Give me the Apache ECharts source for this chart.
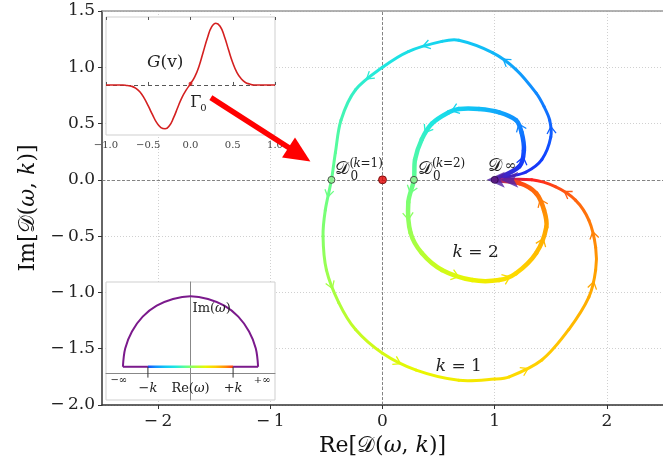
<!DOCTYPE html>
<html><head><meta charset="utf-8">
<script src="https://cdn.jsdelivr.net/npm/echarts@6/dist/echarts.min.js"></script>
<style>html,body{margin:0;padding:0;background:#fff}#c{width:663px;height:466px}</style>
</head><body><div id="c"></div><script>
// ---------- data ----------
const xTicks = [-2, -1, 0, 1, 2];
const yTicks = [-2, -1.5, -1, -0.5, 0, 0.5, 1, 1.5];
// k = 1 contour image (Re, Im) and position along the real-omega contour (0..1)
const k1Re = [1.0, 1.13, 1.28, 1.42, 1.50, 1.49, 1.44, 1.37, 1.19, 0.98, 0.68, 0.53, 0.23, 0.0, -0.24, -0.37, -0.42, -0.455, -0.51, -0.53, -0.50, -0.39, -0.24, 0.0, 0.30, 0.68, 1.0, 1.13, 1.42, 1.66, 1.84, 1.90, 1.90, 1.84, 1.72, 1.54, 1.33, 1.0];
const k1Im = [0.0, 0.03, 0.07, 0.18, 0.38, 0.53, 0.65, 0.77, 0.98, 1.13, 1.24, 1.23, 1.14, 1.0, 0.80, 0.53, 0.24, 0.0, -0.27, -0.50, -0.80, -1.09, -1.33, -1.54, -1.69, -1.78, -1.77, -1.75, -1.60, -1.33, -1.04, -0.80, -0.60, -0.36, -0.18, -0.06, 0.0, 0.0];
const k1T  = [0.0, 0.04, 0.07, 0.10, 0.13, 0.15, 0.17, 0.19, 0.23, 0.27, 0.31, 0.33, 0.37, 0.40, 0.43, 0.46, 0.49, 0.50, 0.53, 0.55, 0.58, 0.61, 0.64, 0.67, 0.70, 0.73, 0.76, 0.77, 0.80, 0.83, 0.86, 0.88, 0.90, 0.92, 0.94, 0.96, 0.98, 1.0];
const k1Arrows = [4, 8, 11, 13, 17, 20, 23, 27, 30, 32, 34];
// k = 2
const k2Re = [1.0, 1.22, 1.26, 1.24, 1.19, 1.04, 0.86, 0.68, 0.59, 0.44, 0.35, 0.29, 0.28, 0.23, 0.25, 0.35, 0.53, 0.80, 1.04, 1.19, 1.37, 1.46, 1.44, 1.37, 1.22, 1.0];
const k2Im = [0.0, 0.12, 0.26, 0.42, 0.53, 0.60, 0.63, 0.63, 0.60, 0.50, 0.36, 0.18, 0.0, -0.20, -0.47, -0.65, -0.80, -0.89, -0.89, -0.83, -0.65, -0.42, -0.27, -0.12, -0.03, 0.0];
const k2T  = [0.0, 0.08, 0.12, 0.17, 0.20, 0.24, 0.28, 0.32, 0.35, 0.40, 0.44, 0.47, 0.50, 0.54, 0.58, 0.62, 0.66, 0.71, 0.75, 0.78, 0.83, 0.87, 0.90, 0.93, 0.96, 1.0];
const k2Arrows = [1, 3, 7, 9, 12, 13, 16, 18, 20, 22];
const d0Points = [[-0.455, 0], [0.28, 0]];
const d0Names = ['1', '2'];
const originPoint = [0, 0];
const dInfPoint = [1, 0];
const arrowStart = [-1.53, 0.73];
const arrowEnd = [-0.74, 0.225];
// inset: G(v)
const gV = [-1.0,-0.95,-0.9,-0.85,-0.8,-0.75,-0.7,-0.65,-0.6,-0.55,-0.5,-0.45,-0.4,-0.35,-0.3,-0.25,-0.2,-0.15,-0.1,-0.05,0,0.05,0.1,0.15,0.2,0.25,0.3,0.35,0.4,0.45,0.5,0.55,0.6,0.65,0.7,0.75,0.8,0.85,0.9,0.95,1.0];
const gVal = [0,0,0,0,0,-0.01,-0.02,-0.05,-0.11,-0.21,-0.34,-0.48,-0.61,-0.69,-0.71,-0.66,-0.53,-0.36,-0.2,-0.08,0.02,0.13,0.3,0.53,0.76,0.94,1.0,0.95,0.79,0.57,0.36,0.2,0.1,0.04,0.015,0,0,0,0,0,0];
// inset: omega contour (upper half plane)
const arcX = [-1, -0.966, -0.866, -0.707, -0.5, -0.259, 0, 0.259, 0.5, 0.707, 0.866, 0.966, 1];
const arcY = [0.09, 0.36, 0.61, 0.83, 0.99, 1.09, 1.13, 1.09, 0.99, 0.83, 0.61, 0.36, 0.09];
const flatY = 0.09, kPos = 0.63;

// ---------- style ----------
const SERIF = '"DejaVu Serif", "Liberation Serif", serif';
const cmapPos = [0, 0.04, 0.10, 0.20, 0.30, 0.40, 0.50, 0.60, 0.70, 0.78, 0.88, 0.95, 0.98, 1.0];
const cmapCol = ['#5a1aa0','#2a20e0','#1040ff','#1090ff','#10c8f5','#20e8e0','#60ff90','#a8ff40','#e8f800','#ffd800','#ffa000','#ff5a10','#ff2020','#902080'];
function hex(c){return [parseInt(c.slice(1,3),16),parseInt(c.slice(3,5),16),parseInt(c.slice(5,7),16)];}
function cmap(t){
  for (let i=0;i<cmapPos.length-1;i++){
    if (t<=cmapPos[i+1]){
      const f=(t-cmapPos[i])/(cmapPos[i+1]-cmapPos[i]);
      const a=hex(cmapCol[i]), b=hex(cmapCol[i+1]);
      return 'rgb('+a.map((v,j)=>Math.round(v+(b[j]-v)*f)).join(',')+')';
    }
  }
  return cmapCol[cmapCol.length-1];
}
const fmt1 = v => (v<0?'\u2212\u2009':'') + Math.abs(v).toFixed(1);
const fmt0 = v => (v<0?'\u2212\u2009':'') + Math.abs(v);

function curveSeries(re, im, tt, arrows, width){
  const n = re.length;
  return {
    type:'custom', xAxisIndex:0, yAxisIndex:0, z:5, clip:false, silent:true,
    data: re.map((r,i)=>[r, im[i], tt[i]]),
    renderItem: function(params, api){
      const i = params.dataIndex;
      if (i >= n-1) return null;
      const P = j => api.coord([re[j], im[j]]);
      const dist = (a,b) => Math.hypot(b[0]-a[0], b[1]-a[1]);
      const tan = j => {
        if (j <= 0) { const a=P(0), b=P(1), d=dist(a,b); return [(b[0]-a[0])/d,(b[1]-a[1])/d]; }
        if (j >= n-1) { const a=P(n-2), b=P(n-1), d=dist(a,b); return [(b[0]-a[0])/d,(b[1]-a[1])/d]; }
        const a=P(j-1), b=P(j), c=P(j+1), s=dist(a,b)+dist(b,c);
        return [(c[0]-a[0])/s,(c[1]-a[1])/s];
      };
      const p1=P(i), p2=P(i+1), L=dist(p1,p2), m1=tan(i), m2=tan(i+1);
      const c1=[p1[0]+m1[0]*L/3, p1[1]+m1[1]*L/3];
      const c2=[p2[0]-m2[0]*L/3, p2[1]-m2[1]*L/3];
      const grad = new echarts.graphic.LinearGradient(p1[0],p1[1],p2[0],p2[1],
        [{offset:0,color:cmap(tt[i])},{offset:1,color:cmap(tt[i+1])}], true);
      const children=[{type:'bezierCurve',
        shape:{x1:p1[0],y1:p1[1],x2:p2[0],y2:p2[1],cpx1:c1[0],cpy1:c1[1],cpx2:c2[0],cpy2:c2[1]},
        style:{stroke:grad,lineWidth:width,fill:null,lineCap:'round'}}];
      if (arrows.indexOf(i) >= 0){
        const m=[(p1[0]+3*c1[0]+3*c2[0]+p2[0])/8,(p1[1]+3*c1[1]+3*c2[1]+p2[1])/8];
        let d=[p2[0]-p1[0]+c2[0]-c1[0], p2[1]-p1[1]+c2[1]-c1[1]];
        const Ld=Math.hypot(d[0],d[1]); d=[d[0]/Ld,d[1]/Ld];
        const nn=[-d[1],d[0]], s=5, w=width/2+3;
        children.push({type:'polyline',
          shape:{points:[[m[0]-d[0]*s+nn[0]*w,m[1]-d[1]*s+nn[1]*w],[m[0]+d[0]*2,m[1]+d[1]*2],[m[0]-d[0]*s-nn[0]*w,m[1]-d[1]*s-nn[1]*w]]},
          style:{stroke:cmap((tt[i]+tt[i+1])/2),lineWidth:1.3,fill:null}});
      }
      return {type:'group',children};
    }
  };
}

const chart = echarts.init(document.getElementById('c'), null, {renderer:'canvas'});
const mainLabel = {fontFamily:SERIF, fontSize:17, color:'#222'};
const nameRich = {a:{fontFamily:SERIF,fontSize:22,color:'#111'},i:{fontFamily:SERIF,fontSize:22,fontStyle:'italic',color:'#111'}};
const option = {
  backgroundColor:'#fff',
  animation:false,
  grid:[
    {left:102, top:11, width:561, height:394, containLabel:false},
    {left:106, top:17, width:169, height:118, show:true, backgroundColor:'#fff', borderColor:'#cfcfcf', borderWidth:1, z:3},
    {left:106, top:282, width:169, height:118, show:true, backgroundColor:'#fff', borderColor:'#cfcfcf', borderWidth:1, z:3}
  ],
  xAxis:[
    {gridIndex:0, type:'value', min:-2.5, max:2.5, interval:0.5, position:'bottom',
     axisLine:{show:true,onZero:false,lineStyle:{color:'#333',width:1.5}},
     axisTick:{show:true,length:4,customValues:xTicks,lineStyle:{color:'#333'}},
     axisLabel:Object.assign({customValues:xTicks,margin:8,formatter:fmt0},mainLabel),
     splitLine:{show:true,lineStyle:{color:'#d0d0d0',type:[1,2],width:1}},
     name:'{a|Re[\uD835\uDC9F(}{i|\u03C9}{a|, }{i|k}{a|)]}', nameLocation:'middle', nameGap:30,
     nameTextStyle:{rich:nameRich}},
    {gridIndex:0, type:'value', min:-2.5, max:2.5, position:'top',
     axisLine:{show:true,onZero:false,lineStyle:{color:'#999',width:1.5}},
     axisTick:{show:false},axisLabel:{show:false},splitLine:{show:false}},
    {gridIndex:1, type:'value', min:-1, max:1, interval:0.5, z:4,
     axisLine:{show:false}, axisTick:{show:true,inside:true,length:3,lineStyle:{color:'#555'}},
     axisLabel:{fontFamily:SERIF,fontSize:10,color:'#444',margin:5,formatter:v=>(v<0?'\u2212':'')+Math.abs(v).toFixed(1)},
     splitLine:{show:false}},
    {gridIndex:1, type:'value', min:-1, max:1, interval:0.5, position:'top', z:4,
     axisLine:{show:false}, axisTick:{show:true,inside:true,length:3,lineStyle:{color:'#555'}},
     axisLabel:{show:false}, splitLine:{show:false}},
    {gridIndex:2, type:'value', min:-1.25, max:1.25, z:4,
     axisLine:{show:true,onZero:true,lineStyle:{color:'#888',width:1}},
     axisTick:{show:false}, axisLabel:{show:false}, splitLine:{show:false}}
  ],
  yAxis:[
    {gridIndex:0, type:'value', min:-2, max:1.5, interval:0.5,
     axisLine:{show:true,onZero:false,lineStyle:{color:'#333',width:1.5}},
     axisTick:{show:true,length:4,lineStyle:{color:'#333'}},
     axisLabel:Object.assign({margin:7,formatter:fmt1},mainLabel),
     splitLine:{show:true,lineStyle:{color:'#d0d0d0',type:[1,2],width:1}},
     name:'{a|Im[\uD835\uDC9F(}{i|\u03C9}{a|, }{i|k}{a|)]}', nameLocation:'middle', nameGap:58, nameRotate:90,
     nameTextStyle:{rich:nameRich}},
    {gridIndex:1, type:'value', min:-0.81, max:1.10, show:false},
    {gridIndex:2, type:'value', min:-0.4, max:1.34, z:4,
     axisLine:{show:true,onZero:true,lineStyle:{color:'#888',width:1}},
     axisTick:{show:false}, axisLabel:{show:false}, splitLine:{show:false}}
  ],
  series:[
    {type:'line', xAxisIndex:0, yAxisIndex:0, data:[], z:1, silent:true,
     markLine:{silent:true,symbol:['none','none'],label:{show:false},
       lineStyle:{color:'#777',type:[3,2],width:0.9},
       data:[{xAxis:originPoint[0]},{yAxis:originPoint[1]}]}},
    curveSeries(k1Re,k1Im,k1T,k1Arrows,3),
    curveSeries(k2Re,k2Im,k2T,k2Arrows,4.5),
    {type:'scatter', xAxisIndex:0, yAxisIndex:0, z:7, silent:true,
     data:[[0.93,0.0],[1.05,0.0]], symbol:'arrow', symbolRotate:90, symbolSize:[12,18],
     itemStyle:{color:'#5020a8',opacity:0.8}},
    {type:'scatter', xAxisIndex:0, yAxisIndex:0, z:8, silent:true, data:d0Points, symbolSize:7,
     itemStyle:{color:'#90ee90',borderColor:'#333',borderWidth:1}},
    {type:'scatter', xAxisIndex:0, yAxisIndex:0, z:8, silent:true, data:[originPoint], symbolSize:8,
     itemStyle:{color:'#e00000',borderColor:'#600',borderWidth:1}},
    {type:'scatter', xAxisIndex:0, yAxisIndex:0, z:8, silent:true, data:[dInfPoint], symbolSize:7,
     itemStyle:{color:'#5a1a7a',borderColor:'#2a0a4a',borderWidth:1}},
    // inset 1: G(v)
    {type:'line', xAxisIndex:2, yAxisIndex:1, z:5, silent:true, data:gV.map((v,i)=>[v,gVal[i]]),
     smooth:true, showSymbol:false, lineStyle:{color:'#d42020',width:1.6},
     markLine:{silent:true,symbol:['none','none'],label:{show:false},
       lineStyle:{color:'#444',type:[4,3],width:0.9},data:[{yAxis:0}]}},
    {type:'scatter', xAxisIndex:2, yAxisIndex:1, z:6, silent:true, data:[[0,0.02]], symbolSize:4,
     itemStyle:{color:'#d42020'}},
    // inset 2: omega contour
    {type:'line', xAxisIndex:4, yAxisIndex:2, z:5, silent:true, data:arcX.map((x,i)=>[x,arcY[i]]),
     smooth:0.35, showSymbol:false, lineStyle:{color:'#7b1a8c',width:2}},
    {type:'line', xAxisIndex:4, yAxisIndex:2, z:5, silent:true, data:[[-1,flatY],[-kPos,flatY]],
     showSymbol:false, lineStyle:{color:'#7b1a8c',width:2}},
    {type:'line', xAxisIndex:4, yAxisIndex:2, z:5, silent:true, data:[[kPos,flatY],[1,flatY]],
     showSymbol:false, lineStyle:{color:'#7b1a8c',width:2}},
    {type:'line', xAxisIndex:4, yAxisIndex:2, z:6, silent:true, data:[[-kPos,flatY],[kPos,flatY]],
     showSymbol:false, lineStyle:{width:2.5,color:new echarts.graphic.LinearGradient(0,0,1,0,
       [0.08,0.2,0.3,0.4,0.5,0.6,0.7,0.8,0.9,0.98].map((t,i,a)=>({offset:i/(a.length-1),color:cmap(t)})))}},
    {type:'line', xAxisIndex:4, yAxisIndex:2, z:6, silent:true, data:[[-kPos,-0.07],[-kPos,flatY]],
     showSymbol:false, lineStyle:{color:'#333',width:1}},
    {type:'line', xAxisIndex:4, yAxisIndex:2, z:6, silent:true, data:[[kPos,-0.07],[kPos,flatY]],
     showSymbol:false, lineStyle:{color:'#333',width:1}},
    // red arrow
    {type:'line', xAxisIndex:0, yAxisIndex:0, data:[], z:20, silent:true,
     markLine:{silent:true,symbol:['none','triangle'],symbolSize:[24,26],label:{show:false},
       lineStyle:{color:'#ff0000',type:'solid',width:5.5,opacity:1},
       data:[[{coord:arrowStart},{coord:arrowEnd}]]}}
  ]
};
chart.setOption(option);

// ---------- text annotations ----------
function px(g, p){ return chart.convertToPixel({gridIndex:g}, p); }
const RICH = {
  a:{fontFamily:SERIF,fontSize:17,fill:'#222'}, i:{fontFamily:SERIF,fontSize:17,fontStyle:'italic',fill:'#222'},
  sa:{fontFamily:SERIF,fontSize:13,fill:'#222'}, si:{fontFamily:SERIF,fontSize:13,fontStyle:'italic',fill:'#222'}
};
function T(g, p, dx, dy, text, size, extra){
  const q = px(g, p);
  return Object.assign({type:'text', x:q[0]+dx, y:q[1]+dy, z:50,
    style:Object.assign({text:text, fontFamily:SERIF, fontSize:size, fill:'#222', align:'left', verticalAlign:'bottom', rich:RICH}, extra||{})});
}
const D = '\uD835\uDC9F';
const els = [];
d0Points.forEach((p, j)=>{
  els.push(T(0,p,4,-2,D,18));
  els.push(T(0,p,19,3,'0',12));
  els.push(T(0,p,18,-10,'(',12));
  els.push(T(0,p,22,-10,'k',12,{fontStyle:'italic'}));
  els.push(T(0,p,29,-10,'=' + d0Names[j] + ')',12));
});
els.push(T(0,dInfPoint,-7,-5,D,18));
els.push(T(0,dInfPoint,10,-6,'\u221E',14));
els.push(T(0,[0.83,-0.65],0,0,'{i|k} {a|= 2}',17,{align:'center',verticalAlign:'middle'}));
els.push(T(0,[0.68,-1.66],0,0,'{i|k} {a|= 1}',17,{align:'center',verticalAlign:'middle'}));
els.push(T(1,[-0.30,0.37],0,0,'{i|G}{a|(v)}',17,{align:'center',verticalAlign:'middle'}));
els.push(T(1,[0.08,-0.29],-7,8,'\u0393',16));
els.push(T(1,[0.08,-0.29],3,11,'0',10));
els.push(T(2,[-1.06,0],0,13,'\u2212\u221E',10,{align:'center'}));
els.push(T(2,[1.06,0],0,13,'+\u221E',10,{align:'center'}));
els.push(T(2,[-kPos,0],0,22,'{sa|\u2212}{si|k}',13,{align:'center'}));
els.push(T(2,[kPos,0],0,22,'{sa|+}{si|k}',13,{align:'center'}));
els.push(T(2,[0,0],0,22,'{sa|Re(}{si|\u03C9}{sa|)}',13,{align:'center'}));
els.push(T(2,[0,0.85],2,0,'{sa|Im(}{si|\u03C9}{sa|)}',13));
chart.setOption({graphic:{elements:els}});
</script></body></html>
